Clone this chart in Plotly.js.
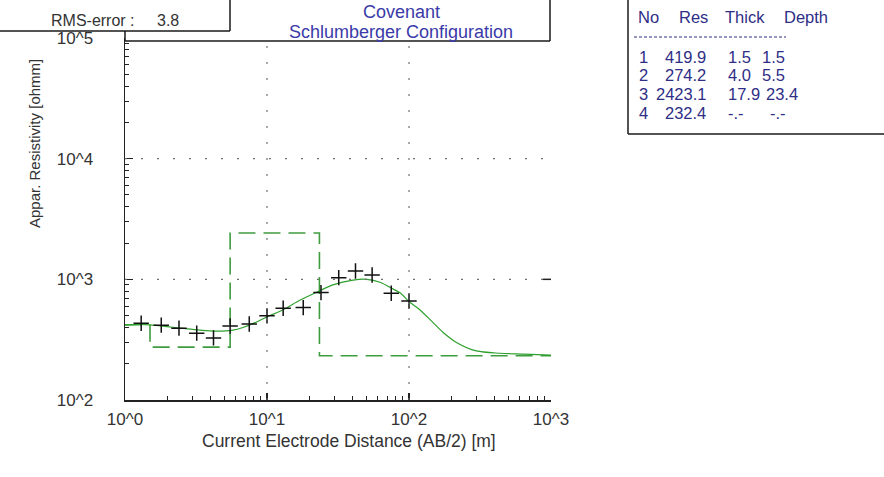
<!DOCTYPE html>
<html>
<head>
<meta charset="utf-8">
<script src="https://cdn.plot.ly/plotly-3.0.1.min.js"></script>
<style>
  html, body { margin: 0; padding: 0; background: #ffffff; }
  #chart { width: 884px; height: 477px; }
</style>
</head>
<body>
<div id="chart"></div>
<script>
// Schlumberger sounding: measured apparent resistivity, fitted curve, layered model
const AB2 = [1.3, 1.8, 2.4, 3.2, 4.2, 5.5, 7.5, 10, 13, 18, 24, 32, 42, 55, 75, 100];
const rhoObs = [432, 417, 394, 358, 327, 411, 427, 498, 576, 583, 776, 1033, 1172, 1086, 766, 662];

const fitAB2 = [1, 1.27, 1.5, 1.97, 2.56, 3.37, 4.42, 5.76, 6.77, 8.45, 9.95, 13, 17, 22.3, 29.1,
                40.4, 50.5, 62.5, 77.5, 87, 100, 118, 150, 174, 216, 298, 437, 639, 1000];
const fitRho = [418, 423, 419, 406, 392, 379, 372, 379, 399, 443, 488, 560, 670, 780, 900,
                986, 1000, 945, 830, 770, 655, 565, 430, 363, 300, 255, 244, 240, 235];

const layerNo = [1, 2, 3, 4];
const layerRes = [419.9, 274.2, 2423.1, 232.4];
const layerThick = [1.5, 4.0, 17.9, null];
const layerDepth = [1.5, 5.5, 23.4, null];

const rmsError = 3.8;
const xTickVals = [1, 10, 100, 1000];
const xTickText = ['10^0', '10^1', '10^2', '10^3'];
const yTickVals = [100, 1000, 10000, 100000];
const yTickText = ['10^2', '10^3', '10^4', '10^5'];

// minor log ticks (2..9 within each decade)
function minorTicks(fromExp, toExp) {
  const out = [];
  for (let e = fromExp; e < toExp; e++) {
    for (let m = 2; m <= 9; m++) out.push(m * Math.pow(10, e));
  }
  return out;
}

// model step line built from the layer table
const depths = layerDepth.filter(d => d !== null);
const stepX = [1].concat(depths).concat([1000]);
const stepY = layerRes.concat([layerRes[layerRes.length - 1]]);

// page geometry (pixels) -> paper coordinates
const W = 884, H = 477;
const M = { l: 125, r: 333, t: 38, b: 77 };
const PW = W - M.l - M.r, PH = H - M.t - M.b;
const px = x => (x - M.l) / PW;
const py = y => (H - M.b - y) / PH;

const FONT = 'Liberation Sans, Arial, sans-serif';
const axisColor = '#222222';
const labelColor = '#333333';
const titleBlue = '#3a3aa8';
const tableBlue = '#2e2e86';
const green = '#2ea02e';

const traces = [
  {
    x: stepX, y: stepY, type: 'scatter', mode: 'lines',
    line: { shape: 'hv', color: '#3f9c3f', width: 1.6, dash: '17px,8px' },
    hoverinfo: 'skip'
  },
  {
    x: fitAB2, y: fitRho, type: 'scatter', mode: 'lines',
    line: { shape: 'spline', smoothing: 0.8, color: green, width: 1.2 },
    hoverinfo: 'skip'
  },
  {
    x: AB2, y: rhoObs, type: 'scatter', mode: 'markers',
    marker: { symbol: 'cross-thin-open', size: 11, color: '#111111', line: { width: 1.5, color: '#111111' } }
  }
];

// dotted grid lines at the inner decades
const shapes = [];
[10, 100].forEach(v => {
  const xp = Math.log10(v) / 3;
  shapes.push({ type: 'line', xref: 'paper', yref: 'paper', x0: xp, x1: xp, y0: 0, y1: 1,
                line: { color: '#6e6e6e', width: 1.2, dash: '2px,14px' } });
});
[1000, 10000].forEach(v => {
  const yp = (Math.log10(v) - 2) / 3;
  shapes.push({ type: 'line', xref: 'paper', yref: 'paper', x0: 0, x1: 1, y0: yp, y1: yp,
                line: { color: '#6e6e6e', width: 1.2, dash: '2px,14px' } });
});

// frame lines: header rule, RMS box, title box edge, table box
const frame = { color: '#1a1a1a', width: 1.5 };
const seg = (x0, y0, x1, y1) => ({ type: 'line', xref: 'paper', yref: 'paper',
  x0: px(x0), y0: py(y0), x1: px(x1), y1: py(y1), line: frame });
shapes.push(seg(125, 41, 550, 41));
shapes.push(seg(125, 31, 125, 41));
shapes.push(seg(0, 31, 230, 31));
shapes.push(seg(230, 0, 230, 31));
shapes.push(seg(550, 0, 550, 41));
shapes.push(seg(628, 0, 628, 134));
shapes.push(seg(628, 134, 884, 134));
// short right-hand tick at 10^3
shapes.push({ type: 'line', xref: 'paper', yref: 'paper', x0: 1 - 8 / PW, x1: 1,
              y0: (3 - 2) / 3, y1: (3 - 2) / 3, line: { color: axisColor, width: 1.5 } });
shapes.push({ type: 'line', xref: 'paper', yref: 'paper', x0: px(634), x1: px(786), y0: py(37), y1: py(37),
              line: { color: tableBlue, width: 1, dash: '3px,2px' } });

const ann = (text, x, y, opts) => Object.assign({
  text: text, xref: 'paper', yref: 'paper', x: px(x), y: py(y),
  xanchor: 'left', yanchor: 'middle', showarrow: false,
  font: { family: FONT, size: 17, color: labelColor }
}, opts || {});

const annotations = [
  ann('RMS-error :', 49, 21, { font: { family: FONT, size: 16, color: labelColor } }),
  ann(String(rmsError), 155, 21, { font: { family: FONT, size: 16, color: labelColor } }),
  ann('Covenant', 401, 12, { xanchor: 'center', font: { family: FONT, size: 18, color: titleBlue } }),
  ann('Schlumberger Configuration', 401, 32, { xanchor: 'center', font: { family: FONT, size: 18, color: titleBlue } }),
  ann('Appar. Resistivity [ohmm]', 34, 144, { xanchor: 'center', textangle: -90, font: { family: FONT, size: 15, color: labelColor } }),
  ann('Current Electrode Distance (AB/2) [m]', 349, 441, { xanchor: 'center', font: { family: FONT, size: 17.5, color: labelColor } })
];

// layer table
const tFont = { family: FONT, size: 16.5, color: tableBlue };
annotations.push(ann('No', 636, 17, { font: tFont }));
annotations.push(ann('Res', 677, 17, { font: tFont }));
annotations.push(ann('Thick', 723, 17, { font: tFont }));
annotations.push(ann('Depth', 782, 17, { font: tFont }));
const rowY = [57, 75, 94, 113];
const fmt = v => (v === null ? '-.-' : v.toFixed(1));
layerNo.forEach((n, i) => {
  const y = rowY[i];
  annotations.push(ann(String(n), 637, y, { font: tFont }));
  annotations.push(ann(layerRes[i].toFixed(1), 708, y, { xanchor: 'right', font: tFont }));
  annotations.push(ann(fmt(layerThick[i]), 726, y, { font: tFont }));
  const d = layerDepth[i];
  annotations.push(ann(fmt(d), d === null ? 768 : (d >= 10 ? 764 : 760), y, { font: tFont }));
});

const layout = {
  width: W, height: H,
  margin: M,
  paper_bgcolor: '#ffffff', plot_bgcolor: '#ffffff',
  showlegend: false,
  xaxis: {
    type: 'log', range: [0, 3], fixedrange: true,
    tickmode: 'array', tickvals: xTickVals, ticktext: xTickText,
    ticks: 'inside', ticklen: 7, tickwidth: 1.2, tickcolor: axisColor,
    showline: true, linecolor: axisColor, linewidth: 1.5,
    showgrid: false, zeroline: false,
    ticklabelstandoff: 3,
    tickfont: { family: FONT, size: 17, color: labelColor },
    minor: { tickmode: 'array', tickvals: minorTicks(0, 3), ticks: 'inside', ticklen: 4,
             tickwidth: 1, tickcolor: axisColor, showgrid: false }
  },
  yaxis: {
    type: 'log', range: [2, 5], fixedrange: true,
    tickmode: 'array', tickvals: yTickVals, ticktext: yTickText,
    ticks: 'inside', ticklen: 8, tickwidth: 1.2, tickcolor: axisColor,
    showline: true, linecolor: axisColor, linewidth: 1.5,
    showgrid: false, zeroline: false,
    ticklabelstandoff: 27,
    tickfont: { family: FONT, size: 17, color: labelColor },
    minor: { tickmode: 'array', tickvals: minorTicks(2, 5), ticks: 'inside', ticklen: 4,
             tickwidth: 1, tickcolor: axisColor, showgrid: false }
  },
  shapes: shapes,
  annotations: annotations
};

Plotly.newPlot('chart', traces, layout, { displayModeBar: false, staticPlot: true });
</script>
</body>
</html>
